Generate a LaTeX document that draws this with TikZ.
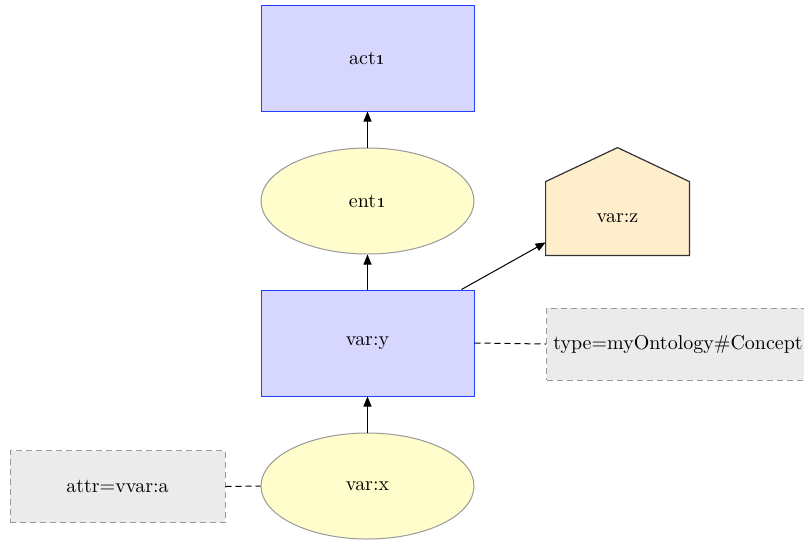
\documentclass[tikz,border=0pt]{standalone}
\usetikzlibrary{arrows.meta,shapes.geometric}
\definecolor{boxfill}{HTML}{D6D6FF}
\definecolor{boxline}{HTML}{1F40FF}
\definecolor{ellfill}{HTML}{FEFDCB}
\definecolor{ellline}{HTML}{999999}
\definecolor{housefill}{HTML}{FFEECC}
\definecolor{houseline}{HTML}{333333}
\definecolor{notefill}{HTML}{EBEBEB}
\definecolor{noteline}{HTML}{999999}
\begin{document}
\begin{tikzpicture}[x=0.5pt,y=-0.5pt,
  every node/.style={font=\fontsize{10}{12}\selectfont, inner sep=0pt},
  actbox/.style={draw=boxline, fill=boxfill, line width=0.5pt,
    minimum width=106.5pt, minimum height=53pt},
  entell/.style={ellipse, draw=ellline, fill=ellfill, line width=0.5pt,
    minimum width=106.5pt, minimum height=53pt},
  notebox/.style={draw=noteline, fill=notefill, dashed, line width=0.5pt,
    dash pattern=on 3pt off 2pt, minimum height=36pt},
  link/.style={-{Triangle[length=5pt,width=4pt]}, line width=0.5pt},
  tie/.style={dashed, dash pattern=on 3pt off 2pt, line width=0.5pt}]
\useasboundingbox (0,0) rectangle (804,543);
\clip (0,0) rectangle (804,543);

% main chain
\node[actbox] (act1) at (367.5,58) {act\oldstylenums{1}};
\node[entell] (ent1) at (367.5,201) {ent\oldstylenums{1}};
\node[actbox] (vary) at (367.5,343) {var:y};
\node[entell] (varx) at (367.5,486) {var:x};

% house-shaped node
\node[minimum width=71.5pt, minimum height=36.5pt] (varz) at (617.5,218.5) {};
\draw[draw=houseline, fill=housefill, line width=0.6pt]
  (varz.south west) -- (varz.north west) -- ([yshift=17pt]varz.north)
  -- (varz.north east) -- (varz.south east) -- cycle;
\node at (varz.center) {var:z};

% attribute notes
\node[notebox, minimum width=132pt, anchor=west] (typenote) at (546,344) {};
\node at (678,344) {type=myOntology\#Concept};
\node[notebox, minimum width=107.5pt] (attrnote) at (117.5,486.5) {attr=vvar:a};

% connectors
\draw[link] (ent1) -- (act1);
\draw[link] (vary) -- (ent1);
\draw[link] (varx) -- (vary);
\coordinate (yz) at ([xshift=-6.5pt]vary.north east);
\coordinate (zy) at ([yshift=6.5pt]varz.south west);
\draw[link] (yz) -- (zy);
\draw[tie] (vary.east) -- (typenote.west);
\draw[tie] (attrnote.east) -- (varx.west);
\end{tikzpicture}
\end{document}
